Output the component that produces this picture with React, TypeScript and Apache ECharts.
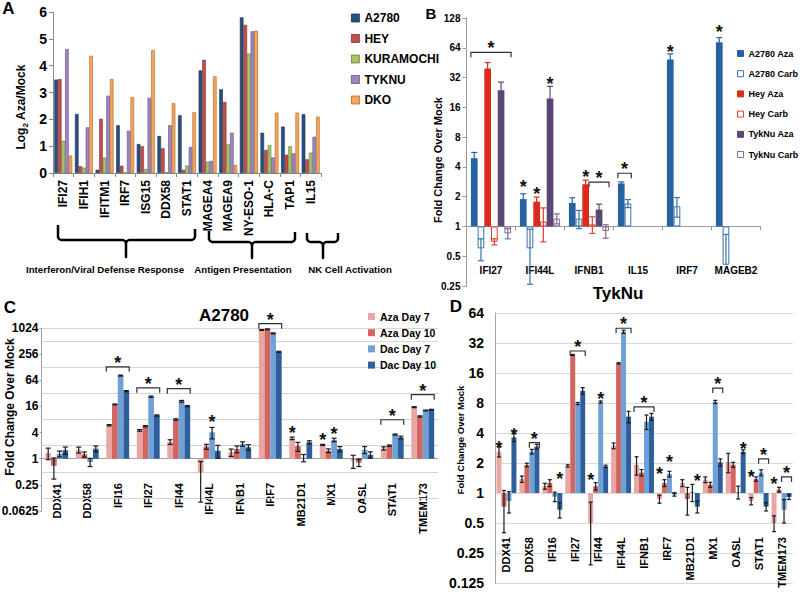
import React, { useEffect, useRef } from "react";
import * as echarts from "echarts";

const FONT = "'Liberation Sans', Arial, sans-serif";

/* ---------------- Panel A : Log2 Aza/Mock ---------------- */
const genesA = ["IFI27", "IFIH1", "IFITM1", "IRF7", "ISG15", "DDX58", "STAT1", "MAGEA4", "MAGEA9", "NY-ESO-1", "HLA-C", "TAP1", "IL15"];
const cellLinesA = ["A2780", "HEY", "KURAMOCHI", "TYKNU", "DKO"];
const a2780A = [3.48, 2.2, 0.12, 1.78, 1.08, 1.38, 2.15, 3.82, 3.12, 5.8, 1.5, 1.73, 2.19];
const heyA = [3.5, 0.25, 2.02, 0.27, 1.0, 0.92, 0.12, 4.22, 2.65, 5.52, 0.86, 0.68, 0.51];
const kuramochiA = [1.2, 0.2, 0.57, 0.02, 0.15, 0.03, 0.28, 0.42, 1.08, 4.45, 1.04, 1.0, 0.76];
const tyknuA = [4.62, 1.7, 2.88, 1.57, 2.8, 1.78, 0.97, 0.45, 1.5, 5.28, 0.58, 0.73, 1.35];
const dkoA = [0.65, 4.37, 3.5, 2.83, 4.58, 2.6, 2.27, 3.6, 0.3, 5.3, 2.25, 2.25, 2.1];
const thresholdA = 1;
const groupLabelsA = ["Interferon/Viral Defense Response", "Antigen Presentation", "NK Cell Activation"];

/* ---------------- Panel B : Aza vs Carb ---------------- */
const genesB = ["IFI27", "IFI44L", "IFNB1", "IL15", "IRF7", "MAGEB2"];
const seriesNamesB = ["A2780 Aza", "A2780 Carb", "Hey Aza", "Hey Carb", "TykNu Aza", "TykNu Carb"];
const a2780AzaB = [4.9, 1.89, 1.73, 2.72, 48.6, 73];
const a2780AzaErrB = [0.7, 0.25, 0.22, 0.1, 7, 8];
const a2780CarbB = [0.6, 0.6, 1.2, 1.71, 1.6, 0.41];
const a2780CarbErrB = [0.15, 0.34, 0.25, 0.16, 0.36, 0.42];
const heyAzaB = [39.4, 1.78, 2.67, null, null, null];
const heyAzaErrB = [6, 0.2, 0.27, null, null, null];
const heyCarbB = [0.7, 1.12, 1.05, null, null, null];
const heyCarbErrB = [0.05, 0.42, 0.2, null, null, null];
const tyknuAzaB = [23.8, 19.6, 1.48, null, null, null];
const tyknuAzaErrB = [5, 6.5, 0.2, null, null, null];
const tyknuCarbB = [0.85, 1.2, 0.9, null, null, null];
const tyknuCarbErrB = [0.1, 0.14, 0.14, null, null, null];
const sigB = [
  { g: "IFI27", s0: 0, s1: 5, v: 57.6 },
  { g: "IFI44L", s0: 0, v: 2.73 },
  { g: "IFI44L", s0: 2, v: 2.33 },
  { g: "IFI44L", s0: 4, v: 30 },
  { g: "IFNB1", s0: 2, v: 3.45 },
  { g: "IFNB1", s0: 3, s1: 5, v: 2.8 },
  { g: "IL15", s0: 0, s1: 1, v: 3.45 },
  { g: "IRF7", s0: 0, v: 63 },
  { g: "MAGEB2", s0: 0, v: 101 },
];

/* ---------------- Panels C (A2780) and D (TykNu) ---------------- */
const genesCD = ["DDX41", "DDX58", "IFI16", "IFI27", "IFI44", "IFI44L", "IFNB1", "IRF7", "MB21D1", "MX1", "OASL", "STAT1", "TMEM173"];
const seriesNamesCD = ["Aza Day 7", "Aza Day 10", "Dac Day 7", "Dac Day 10"];

const azaD7C = [1.35, 1.6, 5.9, 4.5, 2.43, 0.48, 1.4, 920, 2.95, 2.08, 0.9, 1.73, 15.4];
const azaD7ErrC = [0.4, 0.25, 0.2, 0.2, 0.3, 0.38, 0.27, 20, 0.2, 0.06, 0.3, 0.15, 0.4];
const azaD10C = [0.69, 1.26, 17.8, 5.6, 8.0, 1.9, 1.67, 955, 1.93, 1.53, 0.82, 2.0, 9.4];
const azaD10ErrC = [0.35, 0.17, 0.4, 0.2, 0.3, 0.25, 0.3, 20, 0.45, 0.15, 0.16, 0.07, 0.3];
const dacD7C = [1.3, 0.84, 82, 26.8, 21, 4.06, 2.19, 771, 1.05, 2.71, 1.61, 3.6, 12.9];
const dacD7ErrC = [0.2, 0.18, 2, 1, 1, 1.2, 0.26, 20, 0.2, 0.25, 0.3, 0.1, 0.3];
const dacD10C = [1.56, 1.7, 36, 9.9, 16.3, 1.53, 1.83, 290, 2.39, 1.67, 1.24, 3.1, 13.4];
const dacD10ErrC = [0.3, 0.26, 1, 0.3, 0.5, 0.5, 0.27, 8, 0.2, 0.23, 0.2, 0.2, 0.3];
const gridValuesC = [1024, 512, 128, 32, 8, 2, 0.5, 0.125];
const sigC = [
  { g: "IFI16", s0: 0, s1: 3, v: 131 },
  { g: "IFI27", s0: 0, s1: 3, v: 43 },
  { g: "IFI44", s0: 0, s1: 3, v: 41 },
  { g: "IFI44L", s0: 2, v: 8.8 },
  { g: "IRF7", s0: 0, s1: 3, v: 1290 },
  { g: "MB21D1", s0: 0, v: 4.9 },
  { g: "MX1", s0: 0, v: 3.4 },
  { g: "MX1", s0: 2, v: 4.66 },
  { g: "STAT1", s0: 0, s1: 3, v: 7.9 },
  { g: "TMEM173", s0: 0, s1: 3, v: 29.8 },
];

const azaD7D = [2.6, 1.38, 1.17, 1.87, 0.5, 2.98, 1.91, 0.87, 1.26, 1.36, 2.05, 0.83, 0.5];
const azaD7ErrD = [0.3, 0.1, 0.08, 0.05, 0.31, 0.2, 0.4, 0.08, 0.1, 0.09, 0.45, 0.07, 0.09];
const azaD10D = [0.73, 1.91, 1.26, 24.3, 1.17, 20, 1.6, 1.26, 0.87, 1.21, 1.92, 1.38, 1.08];
const azaD10ErrD = [0.33, 0.08, 0.1, 0.3, 0.1, 0.3, 0.12, 0.1, 0.27, 0.07, 0.11, 0.07, 0.06];
const dacD7D = [0.83, 2.6, 0.92, 7.9, 8.2, 41.5, 5.2, 1.55, 1.02, 8.2, 1.02, 1.6, 0.68];
const dacD7ErrD = [0.2, 0.14, 0.1, 0.2, 0.2, 1.5, 0.86, 0.1, 0.2, 0.3, 0.15, 0.11, 0.18];
const dacD10D = [3.62, 2.92, 0.68, 10.6, 1.85, 5.83, 5.83, 0.97, 0.73, 2.03, 2.6, 0.73, 0.91];
const dacD10ErrD = [0.35, 0.16, 0.12, 0.8, 0.05, 0.77, 0.47, 0.04, 0.1, 0.17, 0.12, 0.07, 0.05];
const sigD = [
  { g: "DDX41", s0: 0, v: 3.1 },
  { g: "DDX41", s0: 3, v: 4.2 },
  { g: "DDX58", s0: 2, s1: 3, v: 3.2 },
  { g: "IFI16", s0: 3, v: 1.52 },
  { g: "IFI27", s0: 1, s1: 3, v: 26.6 },
  { g: "IFI44", s0: 0, v: 1.48 },
  { g: "IFI44", s0: 2, v: 9.6 },
  { g: "IFI44L", s0: 1, s1: 3, v: 45 },
  { g: "IFNB1", s0: 0, s1: 3, v: 7.3 },
  { g: "IRF7", s0: 0, v: 1.7 },
  { g: "IRF7", s0: 2, v: 2.25 },
  { g: "MB21D1", s0: 3, v: 1.45 },
  { g: "MX1", s0: 2, s1: 3, v: 11.3 },
  { g: "OASL", s0: 3, v: 3.03 },
  { g: "STAT1", s0: 0, v: 1.59 },
  { g: "STAT1", s0: 2, s1: 3, v: 2.2 },
  { g: "TMEM173", s0: 0, v: 1.35 },
  { g: "TMEM173", s0: 2, s1: 3, v: 1.45 },
];

/* ---------------- helpers ---------------- */
const L = (v: number | null) => (v == null ? null : Math.log2(v));
const fmt = (e: number) => String(parseFloat(Math.pow(2, e).toPrecision(6)));

function txt(x: number, y: number, text: string, font: string, rot = 0, extra: any = {}) {
  return {
    type: "text", x, y, rotation: rot, silent: true,
    style: { text, font, fill: "#000", align: "center", verticalAlign: "middle", textAlign: "center", textVerticalAlign: "middle", ...extra },
  };
}

function errSeries(vals: any[], errs: any[], s: number, n: number, gap: number, axis: number, yMin: number, color: string, cap: number) {
  const data: any[] = [];
  vals.forEach((v, i) => {
    const e = errs[i];
    if (v == null || e == null) return;
    const lo = v - e;
    const hasLo = lo > 0 ? 1 : 0;
    data.push([i, Math.log2(v), Math.log2(v + e), hasLo ? Math.max(Math.log2(lo), yMin) : Math.log2(v), hasLo]);
  });
  return {
    type: "custom", xAxisIndex: axis, yAxisIndex: axis, z: 6, silent: true, clip: false,
    data, encode: { x: 0, y: 1 },
    renderItem: (params: any, api: any) => {
      const i = api.value(0);
      const band = api.size([1, 0])[0];
      const bw = (band * (1 - gap)) / n;
      const x = api.coord([i, 0])[0] + (s - (n - 1) / 2) * bw;
      const yHi = api.coord([i, api.value(2)])[1];
      const yLo = api.coord([i, api.value(3)])[1];
      const st = { stroke: color, lineWidth: 1.2, fill: "none" };
      const ch: any[] = [
        { type: "line", shape: { x1: x, y1: yHi, x2: x, y2: yLo }, style: st },
        { type: "line", shape: { x1: x - cap, y1: yHi, x2: x + cap, y2: yHi }, style: st },
      ];
      if (api.value(4)) ch.push({ type: "line", shape: { x1: x - cap, y1: yLo, x2: x + cap, y2: yLo }, style: st });
      return { type: "group", children: ch };
    },
  };
}

function sigSeries(items: any[], cats: string[], n: number, gap: number, axis: number, fontSize: number) {
  return {
    type: "custom", xAxisIndex: axis, yAxisIndex: axis, z: 8, silent: true, clip: false,
    data: items.map((d) => [cats.indexOf(d.g), Math.log2(d.v), d.s0, d.s1 == null ? d.s0 : d.s1, d.s1 == null ? 0 : 1]),
    encode: { x: 0, y: 1 },
    renderItem: (params: any, api: any) => {
      const ci = api.value(0);
      const band = api.size([1, 0])[0];
      const bw = (band * (1 - gap)) / n;
      const p = api.coord([ci, api.value(1)]);
      const xs = (s: number) => p[0] + (s - (n - 1) / 2) * bw;
      const star = (x: number, y: number) => ({
        type: "text",
        style: { x, y: y + fontSize * 0.22, text: "*", fill: "#111", font: `bold ${fontSize}px ${FONT}`, align: "center", verticalAlign: "middle", textAlign: "center", textVerticalAlign: "middle" },
      });
      if (!api.value(4)) return star(xs(api.value(2)), p[1]);
      const xl = xs(api.value(2)) - bw / 2;
      const xr = xs(api.value(3)) + bw / 2;
      return {
        type: "group",
        children: [
          { type: "polyline", shape: { points: [[xl, p[1] + 5], [xl, p[1]], [xr, p[1]], [xr, p[1] + 5]] }, style: { stroke: "#333", lineWidth: 1.2, fill: "none" } },
          star((xl + xr) / 2, p[1] - 8),
        ],
      };
    },
  };
}

function brace(x0: number, x1: number, xc: number, yl: number, yr: number, yh: number, yt: number) {
  const r = 3;
  return {
    type: "polyline", silent: true,
    shape: {
      points: [
        [x0, yl], [x0, yh - r], [x0 + 1, yh - 1], [x0 + r, yh], [xc - r, yh], [xc - 1, yh + 1], [xc, yh + r], [xc, yt],
        [xc, yh + r], [xc + 1, yh + 1], [xc + r, yh], [x1 - r, yh], [x1 - 1, yh - 1], [x1, yh - r], [x1, yr],
      ],
    },
    style: { stroke: "#000", lineWidth: 2.5, fill: "none", lineJoin: "round" },
  };
}

function buildOption() {
  const gapA = 0.13, gapB = 0.18, gapC = 0.25, gapD = 0.13;
  const grids = [
    { left: 53, top: 12, width: 268, height: 161 },
    { left: 466.5, top: 18, width: 294, height: 268 },
    { left: 41.5, top: 328, width: 396.5, height: 183 },
    { left: 495, top: 313, width: 298, height: 270 },
  ].map((g) => ({ ...g, containLabel: false, outerBoundsMode: "none" }));

  const label = (size: number, extra: any = {}) => ({ fontFamily: FONT, fontWeight: "bold", fontSize: size, color: "#000", ...extra });

  const xAxis = [
    { gridIndex: 0, type: "category", data: genesA, axisLine: { onZero: true, lineStyle: { color: "#8a8a8a" } }, axisTick: { show: true, length: 4, lineStyle: { color: "#8a8a8a" } }, axisLabel: label(12, { rotate: 90, interval: 0, margin: 7 }) },
    { gridIndex: 1, type: "category", data: genesB, axisLine: { onZero: true, lineStyle: { color: "#9a9a9a" } }, axisTick: { show: true, length: 4, lineStyle: { color: "#9a9a9a" } }, axisLabel: label(10, { interval: 0, margin: -21 }) },
    { gridIndex: 2, type: "category", data: genesCD, axisLine: { onZero: true, lineStyle: { color: "#a0a0a0" } }, axisTick: { show: false }, axisLabel: label(11, { rotate: 90, interval: 0, margin: -28 }) },
    { gridIndex: 3, type: "category", data: genesCD, axisLine: { show: false, onZero: true }, axisTick: { show: false }, axisLabel: label(11, { rotate: 90, interval: 0, margin: -46 }) },
  ];
  const yAxis = [
    { gridIndex: 0, type: "value", min: 0, max: 6, interval: 1, axisLine: { show: true, lineStyle: { color: "#8a8a8a" } }, axisTick: { show: true, length: 4, lineStyle: { color: "#8a8a8a" } }, splitLine: { show: false }, axisLabel: label(14, { margin: 6 }) },
    { gridIndex: 1, type: "value", min: -2, max: 7, interval: 1, axisLine: { show: true, lineStyle: { color: "#9a9a9a" } }, axisTick: { show: true, length: 4, lineStyle: { color: "#9a9a9a" } }, splitLine: { show: false }, axisLabel: label(10, { margin: 6, formatter: fmt }) },
    { gridIndex: 2, type: "value", min: -4, max: 10, interval: 2, axisLine: { show: true, lineStyle: { color: "#a0a0a0" } }, axisTick: { show: true, length: 2, lineStyle: { color: "#a0a0a0" } }, splitLine: { show: false }, axisLabel: label(12, { margin: 3, formatter: fmt }) },
    { gridIndex: 3, type: "value", min: -3, max: 6, interval: 1, axisLine: { show: true, lineStyle: { color: "#a6a6a6" } }, axisTick: { show: false }, splitLine: { show: true, lineStyle: { color: "#d9d9d9", width: 1 } }, axisLabel: label(14, { margin: 11, formatter: fmt }) },
  ];

  const series: any[] = [];

  // Panel A
  const colorsA = ["#284f7f", "#c0504d", "#a6c36b", "#9d88be", "#f8a55b"];
  const bordersA = ["#18314f", "#7d2f2d", "#667f36", "#5f4d84", "#a8672a"];
  [a2780A, heyA, kuramochiA, tyknuA, dkoA].forEach((d, i) => {
    const s: any = {
      type: "bar", name: cellLinesA[i], xAxisIndex: 0, yAxisIndex: 0, data: d,
      barGap: "0%", barCategoryGap: gapA * 100 + "%",
      itemStyle: { color: colorsA[i], borderColor: bordersA[i], borderWidth: 0.6 },
    };
    if (i === 0) {
      s.markLine = {
        silent: true, symbol: ["none", "none"], label: { show: false }, z: 5,
        data: [{ yAxis: thresholdA }],
        lineStyle: { color: "#000", width: 3, type: [8, 4], shadowBlur: 3, shadowColor: "rgba(0,0,0,0.45)", shadowOffsetY: 2 },
      };
    }
    series.push(s);
  });

  // Panel B
  const fillB = ["#2762a0", "#ffffff", "#dc2a1c", "#ffffff", "#5a4873", "#ffffff"];
  const strokeB = ["#2762a0", "#3b72ad", "#dc2a1c", "#e5402e", "#5a4873", "#7d6c99"];
  const valsB = [a2780AzaB, a2780CarbB, heyAzaB, heyCarbB, tyknuAzaB, tyknuCarbB];
  const errsB = [a2780AzaErrB, a2780CarbErrB, heyAzaErrB, heyCarbErrB, tyknuAzaErrB, tyknuCarbErrB];
  valsB.forEach((d, i) => {
    series.push({
      type: "bar", name: seriesNamesB[i], xAxisIndex: 1, yAxisIndex: 1, data: d.map(L),
      barGap: "0%", barCategoryGap: gapB * 100 + "%",
      itemStyle: { color: fillB[i], borderColor: strokeB[i], borderWidth: fillB[i] === "#ffffff" ? 1 : 0 },
    });
  });
  valsB.forEach((d, i) => series.push(errSeries(d, errsB[i], i, 6, gapB, 1, -2, strokeB[i], 3)));
  series.push(sigSeries(sigB, genesB, 6, gapB, 1, 18));

  // Panel C
  const colorsCD = ["#e8a6a4", "#d3655f", "#6fa1d7", "#2e5f9c"];
  const valsC = [azaD7C, azaD10C, dacD7C, dacD10C];
  const errsC = [azaD7ErrC, azaD10ErrC, dacD7ErrC, dacD10ErrC];
  valsC.forEach((d, i) => {
    const s: any = {
      type: "bar", name: seriesNamesCD[i], xAxisIndex: 2, yAxisIndex: 2, data: d.map(L),
      barGap: "0%", barCategoryGap: gapC * 100 + "%", itemStyle: { color: colorsCD[i] },
    };
    if (i === 0) {
      s.markLine = {
        silent: true, symbol: ["none", "none"], label: { show: false }, z: 1,
        data: gridValuesC.map((v) => ({ yAxis: Math.log2(v) })),
        lineStyle: { color: "#d4d4d4", width: 1, type: "solid" },
      };
    }
    series.push(s);
  });
  valsC.forEach((d, i) => series.push(errSeries(d, errsC[i], i, 4, gapC, 2, -4, "#1a1a1a", 2.5)));
  series.push(sigSeries(sigC, genesCD, 4, gapC, 2, 18));

  // Panel D
  const valsD = [azaD7D, azaD10D, dacD7D, dacD10D];
  const errsD = [azaD7ErrD, azaD10ErrD, dacD7ErrD, dacD10ErrD];
  valsD.forEach((d, i) => {
    series.push({
      type: "bar", name: seriesNamesCD[i], xAxisIndex: 3, yAxisIndex: 3, data: d.map(L),
      barGap: "0%", barCategoryGap: gapD * 100 + "%", itemStyle: { color: colorsCD[i] },
    });
  });
  valsD.forEach((d, i) => series.push(errSeries(d, errsD[i], i, 4, gapD, 3, -3, "#1a1a1a", 2)));
  series.push(sigSeries(sigD, genesCD, 4, gapD, 3, 18));

  const legendText = (size: number) => ({ fontFamily: FONT, fontWeight: "bold", fontSize: size, color: "#000" });
  const legend = [
    {
      data: cellLinesA, orient: "vertical", left: 346, top: 7, itemWidth: 8, itemHeight: 8, itemGap: 8.5, icon: "rect",
      selectedMode: false, itemStyle: { borderWidth: 0.8 }, textStyle: legendText(12),
    },
    {
      data: seriesNamesB.map((nm, i) => ({ name: nm, itemStyle: { color: fillB[i], borderColor: strokeB[i], borderWidth: 1 } })),
      orient: "vertical", left: 732, top: 44, itemWidth: 6, itemHeight: 6, itemGap: 11.2, icon: "rect", selectedMode: false,
      textStyle: legendText(9),
    },
    {
      data: seriesNamesCD, orient: "vertical", left: 363, top: 306, itemWidth: 7, itemHeight: 7, itemGap: 5.2, icon: "rect", selectedMode: false,
      itemStyle: { borderWidth: 0 }, textStyle: legendText(10.5),
    },
  ];

  const B = (s: number) => `bold ${s}px ${FONT}`;
  const graphic = [
    txt(8.5, 8, "A", B(17)),
    txt(431, 13, "B", B(15)),
    txt(10, 307, "C", B(17)),
    txt(456, 306, "D", B(17)),
    {
      type: "text", x: 21, y: 107, rotation: Math.PI / 2, silent: true,
      style: {
        text: "{a|Log}{b|2}{a| Aza/Mock}", fill: "#000", align: "center", verticalAlign: "middle", textAlign: "center", textVerticalAlign: "middle",
        rich: {
          a: { fontFamily: FONT, fontWeight: "bold", fontSize: 12, lineHeight: 16, fill: "#000", color: "#000" },
          b: { fontFamily: FONT, fontWeight: "bold", fontSize: 8, lineHeight: 6, verticalAlign: "bottom", fill: "#000", color: "#000" },
        },
      },
    },
    txt(438, 160, "Fold Change Over Mock", B(11), Math.PI / 2),
    txt(10, 407, "Fold Change Over Mock", B(12), Math.PI / 2),
    txt(460, 440, "Fold Change Over Mock", B(9.5), Math.PI / 2),
    txt(224, 315.5, "A2780", B(17)),
    txt(618, 293.5, "TykNu", B(17)),
    brace(58, 195, 126, 225, 229, 240, 257),
    brace(209, 295, 252, 231, 232, 242, 258),
    brace(307, 338, 323, 233, 233, 242, 258),
    txt(105, 269, groupLabelsA[0], B(9.7)),
    txt(243, 269, groupLabelsA[1], B(9.7)),
    txt(350, 269, groupLabelsA[2], B(9.7)),
  ];

  return {
    animation: false,
    backgroundColor: "#ffffff",
    textStyle: { fontFamily: FONT },
    grid: grids,
    xAxis,
    yAxis,
    legend,
    series,
    graphic,
  };
}

export default function App() {
  const ref = useRef<HTMLDivElement>(null);
  useEffect(() => {
    const chart = echarts.init(ref.current as HTMLDivElement, null, { renderer: "svg" });
    chart.setOption(buildOption() as any);
    return () => chart.dispose();
  }, []);
  return <div ref={ref} style={{ position: "absolute", left: 0, top: 0, width: 800, height: 594, background: "#fff" }} />;
}
